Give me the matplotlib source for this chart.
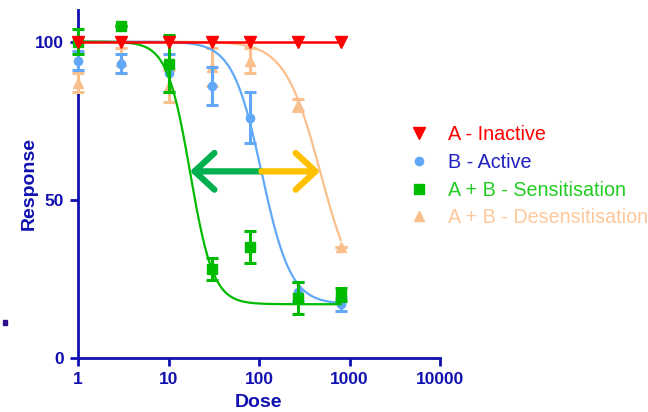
import numpy as np
import matplotlib.pyplot as plt
from matplotlib.patches import ArrowStyle, Rectangle

plt.rcParams['font.family'] = ['Liberation Sans', 'DejaVu Sans']

dose = [1, 3, 10, 30, 80, 270, 800]

inactive = [100, 100, 100, 100, 100, 100, 100]
active = [94, 93, 90, 86, 76, 21, 17]
active_err = [3, 3, 6, 6, 8, 3, 2]
sens = [100, 105, 93, 28, 35, 19, 20]
sens_err = [4, 0, 9, 3.5, 5, 5, 2]
desens = [87, 94, 86, 92, 94, 80, 35]
desens_err = [3, 4, 5, 6, 4, 2, 0]

# fitted curves: top, bottom, logEC50, hill
fit_active = (100, 17, 2.03, 2.7)
fit_sens = (100, 17, 1.24, 3.4)
fit_desens = (100, 17, 2.68, 2.2)
arrow_level = 59

labels = ['A - Inactive', 'B - Active', 'A + B - Sensitisation', 'A + B - Desensitisation']
c_red = '#ff0000'
c_blue = '#62a8f8'
c_green = '#00bb00'
c_orange = '#f9c08e'
axis_col = '#1010b0'


def curve(x, p):
    top, bot, lec, h = p
    return bot + (top - bot) / (1 + 10 ** (h * (np.log10(x) - lec)))


def dose_at(r, p):
    top, bot, lec, h = p
    f = (r - bot) / (top - bot)
    return 10 ** (lec + np.log10(1 / f - 1) / h)


def noclip(container):
    for a in container.get_children():
        a.set_clip_on(False)


fig = plt.figure(figsize=(6.48, 4.12), dpi=100)
ax = fig.add_axes([78 / 648, 1 - 358 / 412, (440 - 78) / 648, (358 - 10) / 412])

xs = np.logspace(0, np.log10(800), 300)
ebkw = dict(capsize=4, elinewidth=2.2, capthick=2.2, linestyle='none')

ax.plot(xs, curve(xs, fit_desens), color=c_orange, lw=1.6, zorder=2)
noclip(ax.errorbar(dose, desens, yerr=desens_err, fmt='^', ms=7, color=c_orange, zorder=3, **ebkw))
ax.plot(xs, curve(xs, fit_active), color=c_blue, lw=1.6, zorder=4)
noclip(ax.errorbar(dose, active, yerr=active_err, fmt='o', ms=6, color=c_blue, zorder=5, **ebkw))
ax.plot(xs, curve(xs, fit_sens), color=c_green, lw=1.6, zorder=6)
noclip(ax.errorbar(dose, sens, yerr=sens_err, fmt='s', ms=7, color=c_green, zorder=7, **ebkw))
ax.plot(dose, inactive, color=c_red, lw=1.8, zorder=8, clip_on=False)
ax.plot(dose, inactive, 'v', ms=8, color=c_red, zorder=9, clip_on=False)

# shift arrows
x_mid = dose_at(arrow_level, fit_active)
x_left = dose_at(arrow_level, fit_sens)
x_right = dose_at(arrow_level, fit_desens)
style = ArrowStyle('->', head_length=0.65, head_width=0.6)
for tip, col in [(x_left, '#00b050'), (x_right, '#ffc000')]:
    ax.annotate('', xy=(tip, arrow_level), xytext=(x_mid, arrow_level), zorder=10,
                arrowprops=dict(arrowstyle=style, lw=4.5, color=col, mutation_scale=22,
                                shrinkA=0, shrinkB=0, capstyle='round', joinstyle='round'))

ax.set_xscale('log')
ax.set_xlim(1, 10000)
ax.set_ylim(0, 110)
ax.set_xticks([1, 10, 100, 1000, 10000])
ax.set_xticklabels(['1', '10', '100', '1000', '10000'])
ax.xaxis.set_minor_locator(plt.NullLocator())
ax.set_yticks([0, 50, 100])
for s in ['top', 'right']:
    ax.spines[s].set_visible(False)
for s in ['left', 'bottom']:
    ax.spines[s].set_color(axis_col)
    ax.spines[s].set_linewidth(2)
ax.tick_params(axis='both', colors=axis_col, width=2, length=6, labelsize=12.5, pad=4)
for t in ax.get_xticklabels() + ax.get_yticklabels():
    t.set_fontweight('bold')
ax.set_xlabel('Dose', fontsize=14, fontweight='bold', color=axis_col, labelpad=5)
ax.set_ylabel('Response', fontsize=14, fontweight='bold', color=axis_col, labelpad=-2)
ax.patch.set_alpha(0)

# legend
handles = [
    plt.Line2D([], [], ls='none', marker='v', ms=8, color=c_red),
    plt.Line2D([], [], ls='none', marker='o', ms=6, color=c_blue),
    plt.Line2D([], [], ls='none', marker='s', ms=7, color=c_green),
    plt.Line2D([], [], ls='none', marker='^', ms=7, color=c_orange),
]
fig.legend(handles, labels, loc='upper left', bbox_to_anchor=(391 / 648, 1 - 107 / 412),
           frameon=False, fontsize=14.2, handlelength=1.0, handletextpad=0.97, labelspacing=0.45,
           labelcolor=[c_red, '#2020c0', '#22cc22', '#ffc89a'])

fig.add_artist(Rectangle((3 / 648, 1 - 325 / 412), 4 / 648, 5 / 412,
                         transform=fig.transFigure, color='#30108a'))

fig.savefig('out.png', dpi=100)
